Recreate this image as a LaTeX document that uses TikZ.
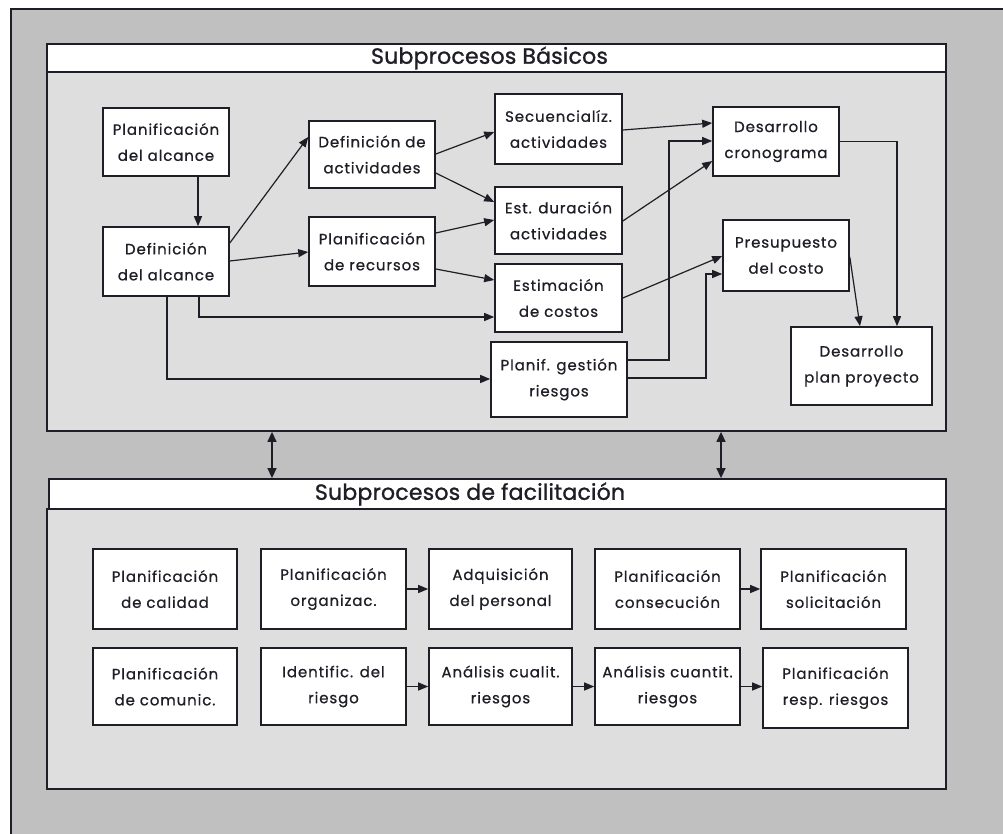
\documentclass[tikz,border=0pt]{standalone}
\usepackage{fontspec}
\setmainfont{Poppins}
\newfontfamily\boxfont{Poppins}[LetterSpace=6, FakeBold=0.7]
\newfontfamily\headfont{Poppins}[LetterSpace=1, FakeBold=1.2]
\usetikzlibrary{arrows.meta,calc}
\definecolor{outergray}{RGB}{192,192,192}
\definecolor{panelgray}{RGB}{222,222,222}
\definecolor{ink}{RGB}{30,30,38}

\begin{document}
\begin{tikzpicture}[x=1pt,y=-1pt,
  wh/.style 2 args={minimum width=#1pt,minimum height=#2pt},
  proc/.style={draw=ink, line width=1.6pt, fill=white, inner sep=0pt,
    align=center, text=ink, font=\boxfont\fontsize{15}{26}\selectfont},
  panel/.style={draw=ink, line width=1.8pt, fill=panelgray, inner sep=0pt},
  titlebar/.style={draw=ink, line width=1.8pt, fill=white, inner sep=0pt},
  titletext/.style={inner sep=0pt, text=ink, font=\headfont\fontsize{22}{24}\selectfont},
  flow/.style={draw=ink, line width=1.2pt, -{Triangle[length=10pt,width=8pt]}},
  linkflow/.style={draw=ink, line width=1.4pt,
    {Triangle[length=10pt,width=9pt]}-{Triangle[length=10pt,width=9pt]}}
]
\useasboundingbox (0,0) rectangle (1003,833);
\clip (0,0) rectangle (1003,833);
\fill[white] (0,0) rectangle (1003,833);
\draw[fill=outergray, draw=ink, line width=1.6pt] (11,9) rectangle (1030,860);

% ---------- basic subprocesses ----------
\node[panel, wh={899}{359}] (upanel) at (496.5,251.5) {};
\node[titlebar, wh={899}{28}] (utitle) at (496.5,58) {};
\node[titletext] (utitletext) at (489.5,58) {Subprocesos Básicos};

\node[proc, wh={126}{68}] (pa) at (166,142) {Planificación\\del alcance};
\node[proc, wh={126}{69}] (da) at (166,261.5) {Definición\\del alcance};
\node[proc, wh={126}{67}] (dact) at (372,154.5) {Definición de\\actividades};
\node[proc, wh={126}{69}] (prec) at (372,251.5) {Planificación\\de recursos};
\node[proc, wh={127}{70}] (sec) at (558.5,129) {Secuencialíz.\\actividades};
\node[proc, wh={127}{67}] (estd) at (558.5,220.5) {Est. duración\\actividades};
\node[proc, wh={127}{68}] (estc) at (558.5,298) {Estimación\\de costos};
\node[proc, wh={136}{75}] (pgr) at (559,379.5) {Planif. gestión\\riesgos};
\node[proc, wh={126}{69}] (dcron) at (776,141.5) {Desarrollo\\cronograma};
\node[proc, wh={126}{71}] (pres) at (786,255.5) {Presupuesto\\del costo};
\node[proc, wh={141}{78}] (dplan) at (861.5,366) {Desarrollo\\plan proyecto};

\draw[flow] (pa.south -| 198,0) -- (da.north -| 198,0);
\draw[flow] (da.east |- 0,243) -- (dact.west |- 0,137);
\draw[flow] (da.east |- 0,261) -- (prec.west |- 0,252);
\draw[flow] (da.south -| 199,0) |- (estc.west |- 0,317);
\draw[flow] (da.south -| 167,0) |- (pgr.west |- 0,379);
\draw[flow] (dact.east |- 0,154) -- (sec.west |- 0,132);
\draw[flow] (dact.east |- 0,173) -- (estd.west |- 0,202);
\draw[flow] (prec.east |- 0,233) -- (estd.west |- 0,220);
\draw[flow] (prec.east |- 0,269) -- (estc.west |- 0,280);
\draw[flow] (sec.east |- 0,130) -- (dcron.west |- 0,123);
\draw[flow] (estd.east |- 0,221) -- (dcron.west |- 0,161);
\draw[flow] (pgr.east |- 0,360) -- (669,360) |- (dcron.west |- 0,141);
\draw[flow] (estc.east |- 0,298) -- (pres.west |- 0,256);
\draw[flow] (pgr.east |- 0,378) -- (706,378) |- (pres.west |- 0,274);
\draw[flow] (dcron.east) -| (dplan.north -| 897,0);
\draw[flow] (pres.east |- 0,257) -- (dplan.north -| 860,0);

% ---------- facilitating subprocesses ----------
\node[panel, wh={899}{280}] (lpanel) at (496.5,649) {};
\node[titlebar, wh={897}{30}] (ltitle) at (497.5,494) {};
\node[titletext] (ltitletext) at (470,494) {Subprocesos de facilitación};

\node[proc, wh={144}{80}] (qa) at (165,589) {Planificación\\de calidad};
\node[proc, wh={145}{80}] (org) at (333.5,589) {Planificación\\organizac.};
\node[proc, wh={143}{80}] (adq) at (500.5,589) {Adquisición\\del personal};
\node[proc, wh={145}{80}] (cons) at (667.5,589) {Planificación\\consecución};
\node[proc, wh={145}{80}] (sol) at (833.5,589) {Planificación\\solicitación};

\node[proc, wh={144}{77}] (com) at (165,686.5) {Planificación\\de comunic.};
\node[proc, wh={145}{77}] (idr) at (333.5,686.5) {Identific. del\\riesgo};
\node[proc, wh={143}{77}] (cual) at (500.5,686.5) {Análisis cualit.\\riesgos};
\node[proc, wh={145}{77}] (cuan) at (667.5,686.5) {Análisis cuantit.\\riesgos};
\node[proc, wh={145}{80}] (resp) at (835.5,688) {Planificación\\resp. riesgos};

\draw[flow] (org) -- (adq);
\draw[flow] (cons) -- (sol);
\draw[flow] (idr) -- (cual);
\draw[flow] (cual) -- (cuan);
\draw[flow] (cuan.east) -- (resp.west |- cuan.east);

% ---------- links between the two groups ----------
\draw[linkflow] (upanel.south -| 272,0) -- (ltitle.north -| 272,0);
\draw[linkflow] (upanel.south -| 721,0) -- (ltitle.north -| 721,0);
\end{tikzpicture}
\end{document}
